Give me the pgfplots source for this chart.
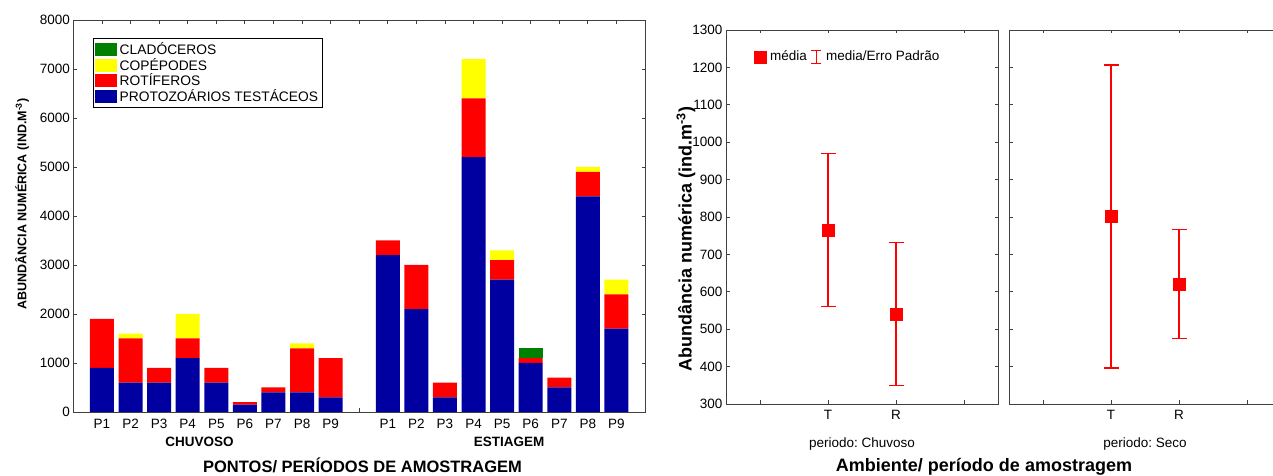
\documentclass[border=0pt]{standalone}
\usepackage{fontspec}
\setmainfont{Liberation Sans}
\usepackage{pgfplots}
\pgfplotsset{compat=1.18}

\definecolor{cblue}{RGB}{0,0,160}
\definecolor{cred}{RGB}{255,0,0}
\definecolor{cyellow}{RGB}{255,255,0}
\definecolor{cgreen}{RGB}{0,128,0}

\newcommand{\ticksize}{\fontsize{13.5}{15}\selectfont}
\frenchspacing

\pgfplotsset{
    common/.style={
        scale only axis,
        anchor=south west,
        /pgf/number format/assume math mode=true,
        /pgf/number format/set thousands separator={},
        scaled y ticks=false,
        tick label style={font=\ticksize},
        tick align=inside,
        major tick length=3.5pt,
        axis line style={line width=0.9pt, black!75},
        tick style={line width=0.8pt, black!75},
    },
    meanpanel/.style={
        common,
        height=374pt,
        ymin=300, ymax=1300,
        ytick={300,400,...,1300},
        xmin=0, xmax=4,
        xtick={0.5,1.5,2.5,3.5},
        xticklabels={{},T,R,{}},
        xticklabel style={yshift=-3pt},
    },
    errs/.style={
        draw=none, mark=none,
        error bars/y dir=both,
        error bars/y explicit,
        error bars/error bar style={draw=cred, line width=1.4pt},
        error bars/error mark options={draw=cred, line width=1.4pt, mark size=7.5pt, rotate=90},
    },
}

\begin{document}
\begin{tikzpicture}
\useasboundingbox (0pt,0pt) rectangle (1273pt,476pt);

% ---- left: stacked abundances per point and period
\begin{axis}[
    common,
    at={(73.4pt,64pt)},
    width=571.6pt, height=392pt,
    ybar stacked, bar width=24pt,
    xmin=0, xmax=20, ymin=0, ymax=8000,
    xtick={1,...,19},
    xticklabels={P1,P2,P3,P4,P5,P6,P7,P8,P9,{},P1,P2,P3,P4,P5,P6,P7,P8,P9},
    xticklabel style={yshift=-4pt},
    ytick={0,1000,...,8000},
    reverse legend,
    legend style={at={(0.034,0.954)}, anchor=north west,
        draw=black, line width=0.8pt, font=\fontsize{13.8}{15}\selectfont,
        inner sep=2pt, row sep=-3pt,
        nodes={inner sep=2.5pt},
        cells={anchor=west}},
    legend image code/.code={\fill[#1] (4pt,-6.5pt) rectangle (26pt,6.5pt);},
]
    \addplot[fill=cblue, draw=none] coordinates {
        (1,900) (2,600) (3,600) (4,1100) (5,600) (6,150) (7,400) (8,400) (9,300)
        (11,3200) (12,2100) (13,300) (14,5200) (15,2700) (16,1000) (17,500) (18,4400) (19,1700)
    };
    \addlegendentry{PROTOZOÁRIOS TESTÁCEOS}
    \addplot[fill=cred, draw=none] coordinates {
        (1,1000) (2,900) (3,300) (4,400) (5,300) (6,50) (7,100) (8,900) (9,800)
        (11,300) (12,900) (13,300) (14,1200) (15,400) (16,100) (17,200) (18,500) (19,700)
    };
    \addlegendentry{ROTÍFEROS}
    \addplot[fill=cyellow, draw=none] coordinates {
        (1,0) (2,100) (3,0) (4,500) (5,0) (6,0) (7,0) (8,100) (9,0)
        (11,0) (12,0) (13,0) (14,800) (15,200) (16,0) (17,0) (18,100) (19,300)
    };
    \addlegendentry{COPÉPODES}
    \addplot[fill=cgreen, draw=none] coordinates {
        (1,0) (2,0) (3,0) (4,0) (5,0) (6,0) (7,0) (8,0) (9,0)
        (11,0) (12,0) (13,0) (14,0) (15,0) (16,200) (17,0) (18,0) (19,0)
    };
    \addlegendentry{CLADÓCEROS}
\end{axis}

\node[rotate=90, font=\bfseries\fontsize{12.5}{14}\selectfont] at (22pt,272pt)
    {ABUNDÂNCIA NUMÉRICA (IND.M\textsuperscript{-3})};
\node[anchor=base, font=\bfseries\fontsize{13.5}{15}\selectfont] at (199.5pt,29pt) {CHUVOSO};
\node[anchor=base, font=\bfseries\fontsize{13.5}{15}\selectfont] at (509pt,29pt) {ESTIAGEM};
\node[anchor=base, font=\bfseries\fontsize{16.5}{18}\selectfont] at (362.5pt,3pt)
    {PONTOS/ PERÍODOS DE AMOSTRAGEM};

% ---- right: mean and standard error, rainy period
\begin{axis}[
    meanpanel,
    at={(726pt,72pt)}, width=272pt,
    legend columns=2,
    legend style={at={(0.09,0.955)}, anchor=north west, draw=none, fill=none,
        font=\ticksize, nodes={inner sep=2pt}, column sep=2pt},
]
    \addplot[only marks, mark=square*, mark size=6pt, cred,
        legend image code/.code={\fill[cred] (0pt,-6pt) rectangle (12pt,6pt);}]
        coordinates {(1.5,765) (2.5,541)};
    \addlegendentry{média}
    \addplot[errs,
        legend image code/.code={
            \draw[cred, line width=1.4pt] (5pt,-6.5pt) -- (5pt,6.5pt);
            \draw[cred, line width=1.2pt] (0pt,-6.5pt) -- (10pt,-6.5pt) (0pt,6.5pt) -- (10pt,6.5pt);}]
        coordinates {(1.5,765) +- (0,205) (2.5,541) +- (0,191)};
    \addlegendentry{media/Erro Padrão}
\end{axis}

% ---- right: mean and standard error, dry period
\begin{axis}[
    meanpanel,
    at={(1009pt,72pt)}, width=264pt, xmax=3.882,
    yticklabels={},
    axis x line*=box, axis y line*=left,
]
    \addplot[only marks, mark=square*, mark size=6pt, cred]
        coordinates {(1.5,801) (2.5,621)};
    \addplot[errs] coordinates {(1.5,801) +- (0,405) (2.5,621) +- (0,146)};
\end{axis}

\node[rotate=90, font=\bfseries\fontsize{18}{20}\selectfont] at (686pt,237pt)
    {Abundância numérica (ind.m\textsuperscript{-3})};
\node[anchor=base, font=\ticksize] at (862pt,28pt) {periodo: Chuvoso};
\node[anchor=base, font=\ticksize] at (1145pt,28pt) {periodo: Seco};
\node[anchor=base, font=\bfseries\fontsize{18}{20}\selectfont] at (984pt,4pt)
    {Ambiente/ período de amostragem};
\end{tikzpicture}
\end{document}
